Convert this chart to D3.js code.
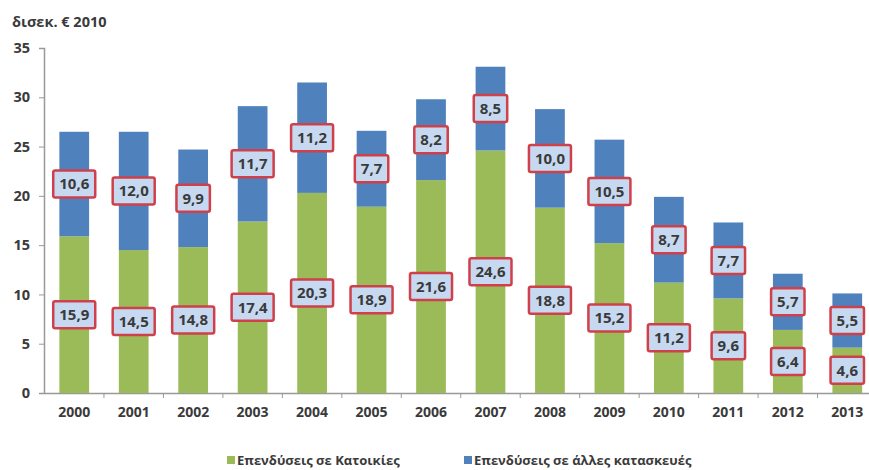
<!DOCTYPE html>
<html>
<head>
<meta charset="utf-8">
<script src="https://cdn.jsdelivr.net/npm/d3@7"></script>
<style>
  body { margin: 0; background: #fff; }
  text { font-family: "Open Sans", sans-serif; font-weight: bold; fill: #3a3a3a; }
</style>
</head>
<body>
<script>
        // data
        var years = ["2000","2001","2002","2003","2004","2005","2006","2007","2008","2009","2010","2011","2012","2013"]
        var housing = [15.9,14.5,14.8,17.4,20.3,18.9,21.6,24.6,18.8,15.2,11.2,9.6,6.4,4.6]
        var other = [10.6,12.0,9.9,11.7,11.2,7.7,8.2,8.5,10.0,10.5,8.7,7.7,5.7,5.5]
        var yTicks = [0,5,10,15,20,25,30,35]
        var seriesNames = ["Επενδύσεις σε Κατοικίες","Επενδύσεις σε άλλες κατασκευές"]
        var colors = ["#9bbb59","#4f81bd"]

        var width = 869
        var height = 470

        var svg = d3.select("body")
            .append("svg")
            .attr("width",width)
            .attr("height", height);

        var x = d3.scaleBand()
            .domain(years)
            .range([44.5, 877])
            .paddingInner(0.5)
            .paddingOuter(0.25)

        var y = d3.scaleLinear()
            .domain([0,35])
            .range([393,48])

        // stack the two series
        var rows = years.map(function(d,i){
            return {year:d, housing:housing[i], other:other[i]}
        })
        var stacked = d3.stack().keys(["housing","other"])(rows)

        // y axis
        var yAxis = svg.append("g")
            .attr("transform","translate(44,0)")
            .call(d3.axisLeft(y).tickValues(yTicks).tickSize(5).tickPadding(9))
        yAxis.select(".domain").attr("stroke","#999").attr("stroke-width",1.5)
        yAxis.selectAll(".tick line").attr("stroke","#999")
        yAxis.selectAll("text").attr("font-size",14.5).attr("fill","#3a3a3a").attr("font-family",null)

        // x axis, ticks between the categories
        var xAxis = svg.append("g")
            .attr("transform","translate(0,393)")
            .call(d3.axisBottom(x).tickSize(0).tickPadding(14))
        xAxis.select(".domain").attr("stroke","#999").attr("stroke-width",1.5)
        xAxis.selectAll("text").attr("font-size",14).attr("fill","#3a3a3a").attr("font-family",null)

        var step = x.step()
        svg.append("g").selectAll("line")
            .data(years.slice(1))
            .enter()
            .append("line")
            .attr("x1",function(d){ return x(d) + x.bandwidth()/2 - step/2 })
            .attr("x2",function(d){ return x(d) + x.bandwidth()/2 - step/2 })
            .attr("y1",393)
            .attr("y2",398)
            .attr("stroke","#999")

        // bars
        svg.append("g").selectAll("g")
            .data(stacked)
            .enter()
            .append("g")
            .attr("fill",function(d,i){ return colors[i] })
            .selectAll("rect")
            .data(function(d){ return d })
            .enter()
            .append("rect")
            .attr("x",function(d){ return x(d.data.year) })
            .attr("width",x.bandwidth())
            .attr("y",function(d){ return y(d[1]) })
            .attr("height",function(d){ return y(d[0]) - y(d[1]) })

        // value labels in boxes
        var labels = []
        stacked.forEach(function(s){
            s.forEach(function(d){
                labels.push({year:d.data.year, v:d[1]-d[0], mid:(d[0]+d[1])/2})
            })
        })
        var lab = svg.append("g").selectAll("g")
            .data(labels)
            .enter()
            .append("g")
            .attr("transform",function(d){
                return "translate(" + (x(d.year) + x.bandwidth()/2) + "," + y(d.mid) + ")"
            })
        var txt = lab.append("text")
            .attr("text-anchor","middle")
            .attr("dy","0.36em")
            .attr("font-size",15)
            .attr("fill","#333")
            .text(function(d){ return d3.format(".1f")(d.v).replace(".",",") })
        lab.each(function(){
            var g = d3.select(this)
            var w = g.select("text").node().getComputedTextLength()
            g.insert("rect","text")
                .attr("x",-w/2-6)
                .attr("y",-13.5)
                .attr("width",w+12)
                .attr("height",27)
                .attr("rx",2)
                .attr("fill","#c6d9f1")
                .attr("stroke","#d0404a")
                .attr("stroke-width",2.5)
        })

        // unit title
        svg.append("text")
            .attr("x",12)
            .attr("y",27)
            .attr("font-size",14.5)
            .text("δισεκ. € 2010")

        // legend
        var legX = [227,464]
        var leg = svg.append("g").selectAll("g")
            .data(seriesNames)
            .enter()
            .append("g")
            .attr("transform",function(d,i){ return "translate(" + legX[i] + ",456)" })
        leg.append("rect")
            .attr("width",8)
            .attr("height",8)
            .attr("fill",function(d,i){ return colors[i] })
        leg.append("text")
            .attr("x",10)
            .attr("y",9)
            .attr("font-size",13)
            .text(function(d){ return d })
</script>
</body>
</html>
